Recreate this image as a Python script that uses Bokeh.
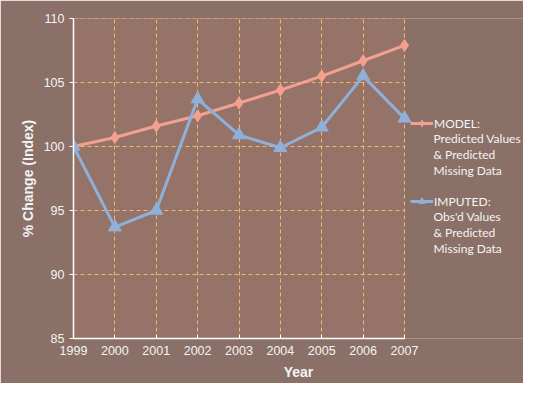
from bokeh.plotting import figure
from bokeh.models import Legend, LegendItem, FixedTicker, Range1d, Label
from bokeh.embed import file_html
from bokeh.resources import INLINE

years = [1999, 2000, 2001, 2002, 2003, 2004, 2005, 2006, 2007]
model = [100.0, 100.7, 101.6, 102.4, 103.4, 104.4, 105.5, 106.7, 107.9]
imputed = [100.0, 93.7, 95.0, 103.7, 100.9, 99.9, 101.5, 105.5, 102.2]
y_ticks = [85, 90, 95, 100, 105, 110]
model_lines = ["MODEL:", "Predicted Values", "& Predicted", "Missing Data"]
imputed_lines = ["IMPUTED:", "Obs'd Values", "& Predicted", "Missing Data"]

W, H = 523, 383
FL, FT, FB = 73, 18, 338          # frame left / top / bottom (px)
PX_YEAR = (404 - FL) / (years[-1] - years[0])
PX_UNIT = (FB - FT) / (y_ticks[-1] - y_ticks[0])
x_end = years[0] + (W - FL) / PX_YEAR

GRID = "#F5B86A"
TXT = "#F4F4F4"

p = figure(width=W, height=H, output_backend="svg", toolbar_location=None,
           x_range=Range1d(years[0], x_end), y_range=Range1d(y_ticks[0], y_ticks[-1]),
           min_border_left=FL, min_border_right=0, min_border_top=FT, min_border_bottom=H - FB)
p.background_fill_color = "#8B7068"
p.border_fill_color = "#8B7068"
p.outline_line_color = None

# plot area fill (drawn beneath the grid)
p.quad(left=[years[0]], right=[years[-1]], bottom=[y_ticks[0]], top=[y_ticks[-1]],
       fill_color="#957369", line_color=None, level="image")

# horizontal dashed gridlines limited to plot area
p.segment(x0=[years[0]] * len(y_ticks), x1=[years[-1]] * len(y_ticks), y0=y_ticks, y1=y_ticks,
          line_color=GRID, line_dash="4 3", line_width=1, level="underlay")
p.ygrid.visible = False
p.xgrid.ticker = FixedTicker(ticks=years)
p.xgrid.grid_line_color = GRID
p.xgrid.grid_line_dash = "4 3"
p.xgrid.grid_line_width = 1

p.xaxis.ticker = FixedTicker(ticks=years)
p.yaxis.ticker = FixedTicker(ticks=y_ticks)
p.xaxis.bounds = (years[0], years[-1])
for ax in (p.xaxis[0], p.yaxis[0]):
    ax.axis_line_color = "white"
    ax.axis_line_width = 1.5
    ax.major_tick_line_color = "white"
    ax.minor_tick_line_color = None
    ax.major_label_text_color = TXT
    ax.major_label_text_font = "Liberation Sans"
    ax.major_label_text_font_size = "12.5px"
    ax.axis_label_text_color = TXT
    ax.axis_label_text_font = "Liberation Sans"
    ax.axis_label_text_font_size = "14px"
    ax.axis_label_text_font_style = "bold"
p.xaxis.major_tick_in = 4
p.xaxis.major_tick_out = 0
p.yaxis.major_tick_in = 0
p.yaxis.major_tick_out = 4
p.xaxis.axis_label = "Year"
p.yaxis.axis_label = "% Change (Index)"
p.xaxis.major_label_standoff = 7
p.yaxis.major_label_standoff = 5
p.xaxis.axis_label_standoff = 6
p.yaxis.axis_label_standoff = 5

l1 = p.line(years, model, line_color="#F4A090", line_width=3)
m1 = p.scatter(years, model, marker="diamond", size=12, fill_color="#F4A090", line_color="#F4A090")
l2 = p.line(years, imputed, line_color="#8FB0D8", line_width=3)
m2 = p.scatter(years, imputed, marker="triangle", size=13, fill_color="#8FB0D8", line_color="#8FB0D8")

legend = Legend(items=[LegendItem(label=model_lines[0], renderers=[l1, m1]),
                       LegendItem(label=imputed_lines[0], renderers=[l2, m2])],
                location=(410 - FL, 129))
legend.background_fill_alpha = 0
legend.border_line_alpha = 0
legend.label_text_color = TXT
legend.label_text_font = "Lato"
legend.label_text_font_size = "12px"
legend.glyph_width = 23
legend.glyph_height = 16
legend.label_height = 16
legend.label_standoff = 1
legend.spacing = 62
legend.padding = 0
legend.margin = 0
p.add_layout(legend, "center")

def px_to_x(px):
    return years[0] + (px - FL) / PX_YEAR

def py_to_y(py):
    return y_ticks[0] + (FB - py) / PX_UNIT

for block, y0 in ((model_lines, 122.5), (imputed_lines, 200.5)):
    for i, txt in enumerate(block[1:], start=1):
        p.add_layout(Label(x=px_to_x(433), y=py_to_y(y0 + i * 15.7),
                           text=txt, text_color=TXT, text_font="Lato",
                           text_font_size="12px", text_baseline="middle", text_align="left"))

open("out.html", "w").write(file_html(p, INLINE))
